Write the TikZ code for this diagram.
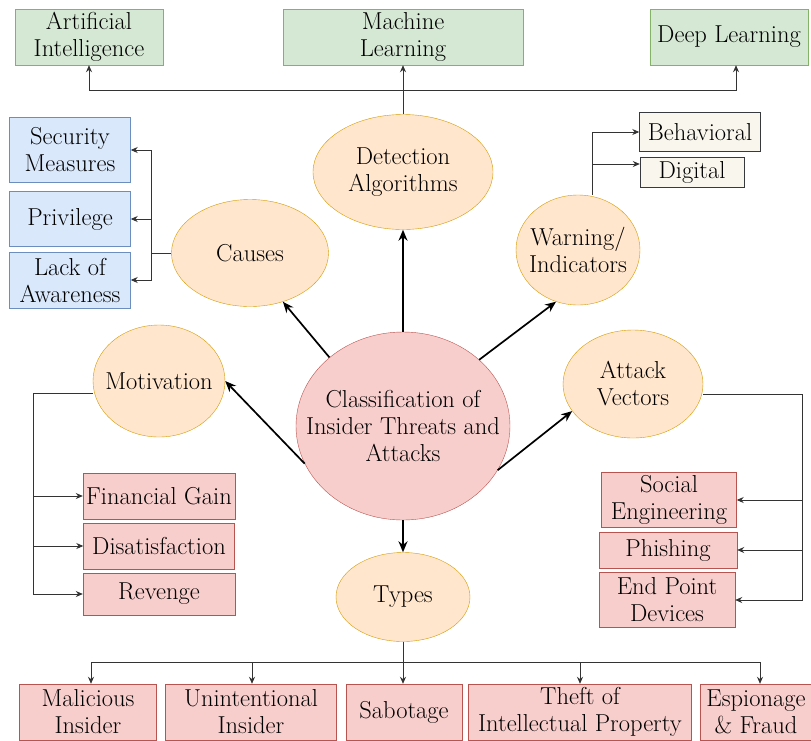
\documentclass[tikz,border=0pt]{standalone}
\usetikzlibrary{arrows.meta,shapes.geometric}

\definecolor{boxgreen}{HTML}{D5E8D4}
\definecolor{linegreen}{HTML}{82B366}
\definecolor{boxblue}{HTML}{DAE8FC}
\definecolor{lineblue}{HTML}{6C8EBF}
\definecolor{boxorange}{HTML}{FFE6CC}
\definecolor{lineorange}{HTML}{D79B00}
\definecolor{boxred}{HTML}{F8CECC}
\definecolor{linered}{HTML}{B85450}
\definecolor{boxcream}{HTML}{F9F7ED}
\definecolor{linecream}{HTML}{36393D}

\tikzset{
  every node/.style={font=\fontsize{24.5}{27}\selectfont, align=center, inner sep=0pt},
  greenbox/.style={rectangle, draw=linegreen, fill=boxgreen},
  bluebox/.style={rectangle, draw=lineblue, fill=boxblue},
  redbox/.style={rectangle, draw=linered, fill=boxred},
  creambox/.style={rectangle, draw=linecream, fill=boxcream},
  topic/.style={ellipse, draw=lineorange, fill=boxorange, inner xsep=-40pt},
  link/.style={draw=black!80, line width=0.9pt, -{Stealth[length=7pt,width=6pt]}},
  plainlink/.style={draw=black!80, line width=0.9pt},
  bigarrow/.style={draw=black, line width=1.7pt, -{Stealth[length=11pt,width=9pt]}}
}

\begin{document}
\begin{tikzpicture}[x=1pt,y=-1pt]
			%%%%% START %%%%%
			\useasboundingbox (0,0) rectangle (811,740);
			
			% top row
			\node[greenbox, minimum width=148pt, minimum height=56pt] (ai) at (89,37) {Artificial\\Intelligence};
			\node[greenbox, minimum width=240pt, minimum height=56pt] (ml) at (403,37) {Machine\\Learning};
			\node[greenbox, minimum width=158pt, minimum height=56pt] (dl) at (729,37) {Deep Learning};
			
			% ellipses
			\node[topic, minimum width=180pt, minimum height=115pt] (det) at (403,172) {Detection\\Algorithms};
			\node[topic, minimum width=157pt, minimum height=107pt] (causes) at (250,253) {Causes};
			\node[topic, minimum width=124pt, minimum height=110pt] (warn) at (578,250) {Warning/\\Indicators};
			\node[topic, minimum width=132pt, minimum height=112pt] (mot) at (159,381) {Motivation};
			\node[topic, minimum width=140pt, minimum height=108pt] (atk) at (633,384) {Attack\\Vectors};
			\node[topic, minimum width=134pt, minimum height=89pt] (types) at (403,597) {Types};
			\node[topic, draw=linered, fill=boxred, minimum width=214pt, minimum height=188pt] (cls) at (403,426) {Classification of\\Insider Threats and\\Attacks};
			
			% causes
			\node[bluebox, minimum width=121pt, minimum height=65pt] (secm) at (70,150) {Security\\Measures};
			\node[bluebox, minimum width=121pt, minimum height=55pt] (priv) at (70,219) {Privilege};
			\node[bluebox, minimum width=121pt, minimum height=56pt] (lack) at (70,280) {Lack of\\Awareness};
			
			% warning
			\node[creambox, minimum width=121pt, minimum height=39pt] (beh) at (700,132) {Behavioral};
			\node[creambox, minimum width=104pt, minimum height=30pt] (dig) at (692,172) {Digital};
			
			% motivation
			\node[redbox, minimum width=152pt, minimum height=46pt] (fin) at (159,496) {Financial Gain};
			\node[redbox, minimum width=151pt, minimum height=46pt] (dis) at (159,546) {Disatisfaction};
			\node[redbox, minimum width=152pt, minimum height=42pt] (rev) at (159,594) {Revenge};
			
			% attack vectors
			\node[redbox, minimum width=135pt, minimum height=55pt] (soc) at (669,500) {Social\\Engineering};
			\node[redbox, minimum width=138pt, minimum height=36pt] (phi) at (668,550) {Phishing};
			\node[redbox, minimum width=136pt, minimum height=55pt] (endp) at (667,600) {End Point\\Devices};
			
			% types
			\node[redbox, minimum width=137pt, minimum height=56pt] (mal) at (88,712) {Malicious\\Insider};
			\node[redbox, minimum width=171pt, minimum height=56pt] (unin) at (251,712) {Unintentional\\Insider};
			\node[redbox, minimum width=116pt, minimum height=56pt] (sab) at (404,712) {Sabotage};
			\node[redbox, minimum width=223pt, minimum height=56pt] (theft) at (580,712) {Theft of\\Intellectual Property};
			\node[redbox, minimum width=112pt, minimum height=56pt] (esp) at (756,712) {Espionage\\\& Fraud};
			
			% bus points
			\coordinate (topbus) at (403,90);
			\coordinate (cbus) at (151,253);
			\coordinate (mbus) at (33,393);
			\coordinate (abus) at (802,394);
			\coordinate (tbus) at (403,662);
			
			% centre arrows
			\draw[bigarrow] (cls.north) -- (det.south);
			\draw[bigarrow] (cls.137) -- (causes.304);
			\draw[bigarrow] (cls.41) -- (warn.247);
			\draw[bigarrow] (cls.201) -- (mot.east);
			\draw[bigarrow] (cls.335) -- (atk.204);
			\draw[bigarrow] (cls.south) -- (types.north);
			
			% detection
			\draw[plainlink] (det.north) -- (topbus);
			\draw[link] (topbus) -| (ai.south);
			\draw[link] (topbus) -- (ml.south);
			\draw[link] (topbus) -| ([xshift=7pt]dl.south);
			
			% causes
			\draw[plainlink] (causes.west) -- (cbus);
			\draw[link] (cbus) |- (secm.east);
			\draw[link] (cbus) |- (priv.east);
			\draw[link] (cbus) |- (lack.east);
			
			% warning
			\draw[link] ([xshift=14pt]warn.north) |- (beh.west);
			\draw[link] ([xshift=14pt]warn.north) |- ([yshift=8pt]dig.west);
			
			% motivation
			\draw[plainlink] ([yshift=-12pt]mot.west) -- (mbus);
			\draw[link] (mbus) |- (fin.west);
			\draw[link] (mbus) |- (dis.west);
			\draw[link] (mbus) |- (rev.west);
			
			% attack vectors
			\draw[plainlink] ([yshift=-10pt]atk.east) -- (abus);
			\draw[link] (abus) |- (soc.east);
			\draw[link] (abus) |- (phi.east);
			\draw[link] (abus) |- (endp.east);
			
			% types
			\draw[plainlink] (types.south) -- (tbus);
			\draw[link] (tbus) -| ([xshift=3pt]mal.north);
			\draw[link] (tbus) -| ([xshift=1pt]unin.north);
			\draw[link] (tbus) -- (sab.north -| tbus);
			\draw[link] (tbus) -| (theft.north);
			\draw[link] (tbus) -| ([xshift=4pt]esp.north);
			
			%%%%% END %%%%%
\end{tikzpicture}
\end{document}
